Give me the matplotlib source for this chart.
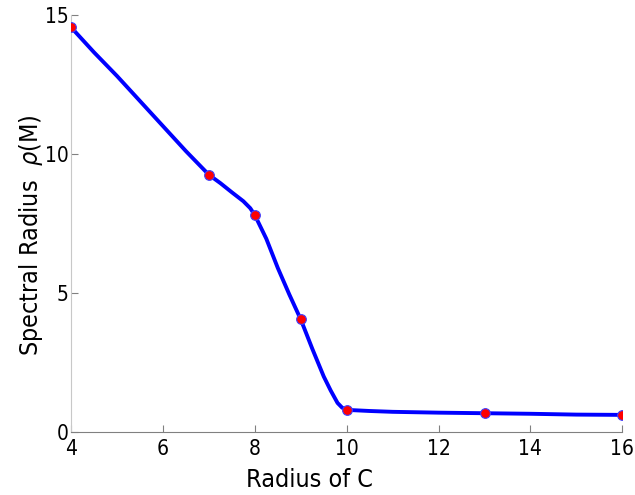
import matplotlib
matplotlib.use('Agg')
import matplotlib.pyplot as plt

# curve
line_x = [4, 4.5, 5, 5.5, 6, 6.5, 7, 7.25, 7.5, 7.75, 7.9, 8, 8.25, 8.5, 8.75,
          9, 9.25, 9.5, 9.65, 9.8, 9.9, 10, 10.5, 11, 12, 13, 14, 15, 16]
line_y = [14.55, 13.65, 12.8, 11.9, 11.0, 10.1, 9.25, 8.95, 8.62, 8.3, 8.05,
          7.8, 6.95, 5.9, 4.95, 4.05, 3.0, 2.0, 1.5, 1.05, 0.88, 0.8, 0.76,
          0.73, 0.70, 0.68, 0.66, 0.63, 0.62]

# marked points
pts_x = [4, 7, 8, 9, 10, 13, 16]
pts_y = [14.55, 9.25, 7.8, 4.05, 0.8, 0.68, 0.62]

xticks = [4, 6, 8, 10, 12, 14, 16]
yticks = [0, 5, 10, 15]

plt.rcParams['font.family'] = 'DejaVu Sans'
plt.rcParams['font.stretch'] = 'condensed'

fig = plt.figure(figsize=(6.35, 4.95), dpi=100)
ax = fig.add_axes([0.112, 0.127, 0.868, 0.843])

ax.plot(line_x, line_y, color='#0000ff', lw=2.8, zorder=2,
        solid_joinstyle='round')
ax.plot(pts_x, pts_y, 'o', ms=7, mfc='#ff0000', mec='#4040ff', mew=0.8, zorder=3)

ax.set_xlim(4, 16)
ax.set_ylim(0, 15)
ax.set_xticks(xticks)
ax.set_yticks(yticks)

for s in ('top', 'right'):
    ax.spines[s].set_visible(False)
ax.spines['left'].set_color('#c8c8c8')
ax.spines['bottom'].set_color('#808080')
ax.tick_params(direction='in', length=5, color='#808080', labelsize=15)
ax.tick_params(axis='x', pad=5)
ax.tick_params(axis='y', pad=2)

ax.set_xlabel('Radius of C', fontsize=18)
ax.set_ylabel(r'Spectral Radius  $\rho$(M)', fontsize=18)
ax.xaxis.set_label_coords(0.432, -0.087)
ax.yaxis.set_label_coords(-0.047, 0.472)

fig.savefig('out.png', dpi=100)
